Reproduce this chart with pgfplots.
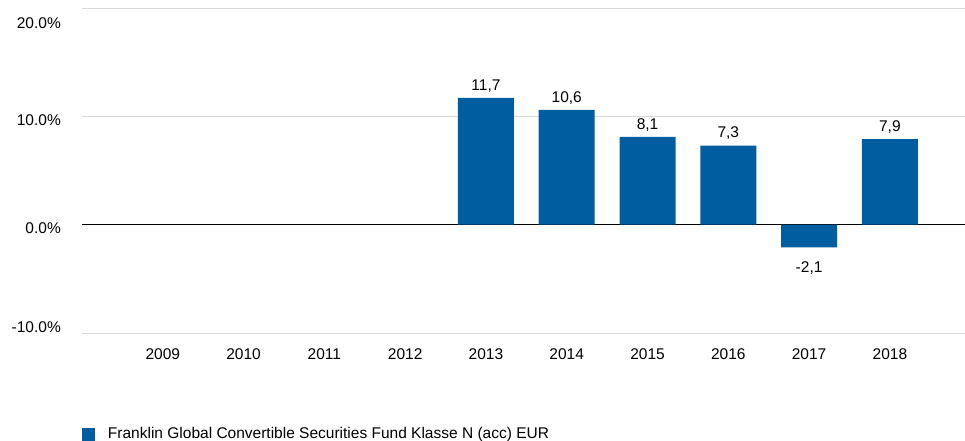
\documentclass[border=0pt]{standalone}
\usepackage{pgfplots}
\pgfplotsset{compat=1.18}
\usepackage{fontspec}
\setmainfont{Liberation Sans}
\definecolor{barblue}{RGB}{0,93,160}
\definecolor{gridgray}{RGB}{218,218,218}
\newcommand{\fs}{\fontsize{15.5}{18}\selectfont}
\begin{document}
\fs
\begin{tikzpicture}
\useasboundingbox (0,0) rectangle (965pt,441pt);
\begin{axis}[
  at={(82pt,108pt)}, anchor=south west,
  scale only axis, width=883pt, height=325pt,
  xmin=-1, xmax=9.93, ymin=-10, ymax=20,
  ybar, bar width=0.693,
  xtick={0,...,9},
  xticklabels={2009,2010,2011,2012,2013,2014,2015,2016,2017,2018},
  xticklabel style={anchor=base, yshift=-27pt, font=\fs},
  ytick={-10,0,10,20}, yticklabels={},
  ymajorgrids, grid style={gridgray, line width=0.8pt},
  extra y ticks={0}, extra y tick labels={},
  extra y tick style={grid style={black, line width=0.8pt}},
  axis line style={draw=none}, major tick length=0pt, tick style={draw=none},
  nodes near coords={\pgfmathprintnumber[fixed,fixed zerofill,precision=1,use comma,assume math mode=true]{\pgfplotspointmeta}},
  visualization depends on={rawy \as \rawy},
  every node near coord/.append style={font=\fs, inner sep=5.5pt, text=black,
     yshift={ifthenelse(\rawy<0,-9,0)}},
  legend style={at={(0,-0.3123)}, anchor=west, draw=none, fill=none, inner sep=0pt, outer sep=0pt,
     nodes={inner sep=0pt}, column sep=13pt, font=\fs},
  legend image code/.code={\fill[barblue] (0pt,-6.5pt) rectangle (13pt,6.5pt);},
  clip=false,
]
\addplot[fill=barblue, draw=none] coordinates {(4,11.7) (5,10.6) (6,8.1) (7,7.3) (8,-2.1) (9,7.9)};
\addlegendentry{Franklin Global Convertible Securities Fund Klasse N (acc) EUR}
\end{axis}
\node[anchor=base east, inner sep=0pt] at (61pt,412pt) {20.0\%};
\node[anchor=base east, inner sep=0pt] at (61pt,315pt) {10.0\%};
\node[anchor=base east, inner sep=0pt] at (61pt,207pt) {0.0\%};
\node[anchor=base east, inner sep=0pt] at (61pt,108pt) {-10.0\%};
\end{tikzpicture}
\end{document}
